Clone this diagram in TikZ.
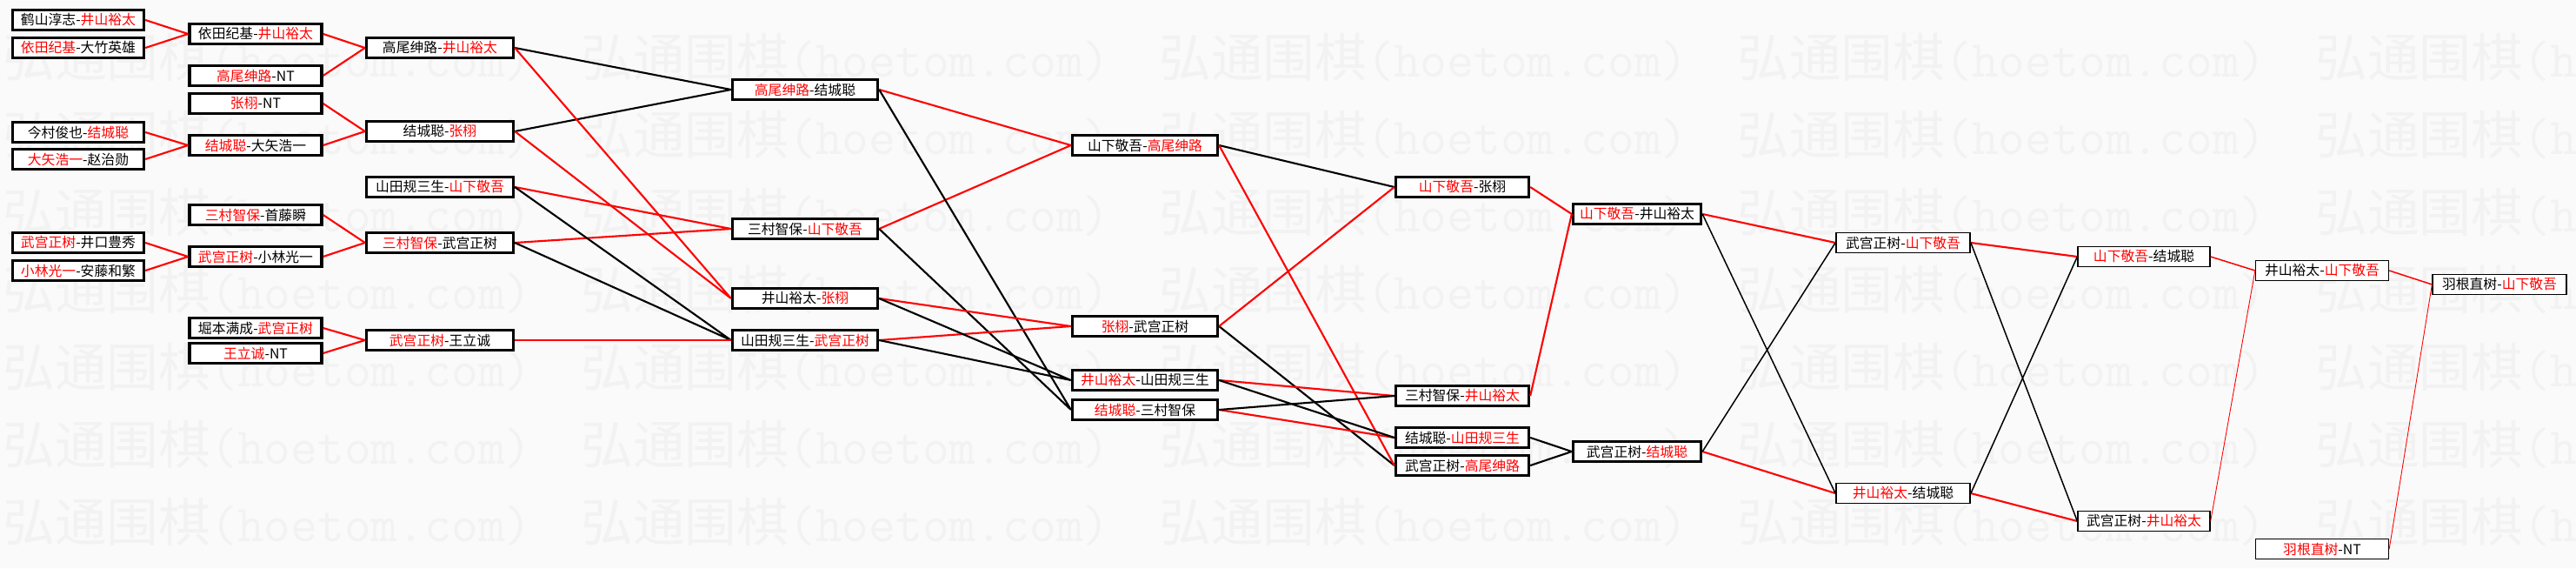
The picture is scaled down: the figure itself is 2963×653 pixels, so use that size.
\documentclass[tikz,border=0pt]{standalone}
\usepackage{fontspec}
\setmainfont{Noto Sans CJK SC}
\newcommand{\win}[1]{\textcolor{red}{#1}}
\tikzset{
  game/.style={draw, fill=white, line width=1.9pt, minimum width=#1, minimum height=4.6mm, inner sep=0pt, font=\fontsize{9}{9}\selectfont},
  game/.default=31mm,
  mid/.style={line width=1pt},
  late/.style={line width=0.75pt},
  adv/.style={red, line width=1.2pt},
  lost/.style={black, line width=1.2pt},
  thinadv/.style={red, line width=0.85pt},
  thinlost/.style={black, line width=0.85pt},
  faint/.style={red, line width=0.5pt},
  wm/.style={text=black!5, inner sep=0pt, font=\fontsize{34}{34}\selectfont}
}
\begin{document}
\begin{tikzpicture}[x=0.2mm, y=-0.2mm]
	\fill[black!2] (0,0) rectangle (2963,653);
	\useasboundingbox (0,0) rectangle (2963,653);
	\foreach \r in {0,...,6}
	  \foreach \c in {0,...,4}
	    \node[wm, anchor=west] (wm\r\c) at (3+665*\c, 66+89*\r) {弘通围棋{\ttfamily (hoetom.com)}};
	% first round
	\node[game=30.2mm] (a1) at (90,23) {鹤山淳志-\win{井山裕太}};
	\node[game=30.2mm] (a2) at (90,55) {\win{依田纪基}-大竹英雄};
	\node[game=30.2mm] (a3) at (90,152) {今村俊也-\win{结城聪}};
	\node[game=30.2mm] (a4) at (90,183) {\win{大矢浩一}-赵治勋};
	\node[game=30.2mm] (a5) at (90,279) {\win{武宫正树}-井口豊秀};
	\node[game=30.2mm] (a6) at (90,311) {\win{小林光一}-安藤和繁};
	\node[game=30.4mm] (b1) at (294,39) {依田纪基-\win{井山裕太}};
	\node[game=30.4mm] (b2) at (294,87) {\win{高尾绅路}-NT};
	\node[game=30.4mm] (b3) at (294,119) {\win{张栩}-NT};
	\node[game=30.4mm] (b4) at (294,167) {\win{结城聪}-大矢浩一};
	\node[game=30.4mm] (b5) at (294,247) {\win{三村智保}-首藤瞬};
	\node[game=30.4mm] (b6) at (294,295) {\win{武宫正树}-小林光一};
	\node[game=30.4mm] (b7) at (294,377) {堀本满成-\win{武宫正树}};
	\node[game=30.4mm] (b8) at (294,406) {\win{王立诚}-NT};
	\node[game=33.8mm] (c1) at (506,55) {高尾绅路-\win{井山裕太}};
	\node[game=33.8mm] (c2) at (506,151) {结城聪-\win{张栩}};
	\node[game=33.8mm] (c3) at (506,215) {山田规三生-\win{山下敬吾}};
	\node[game=33.8mm] (c4) at (506,279) {\win{三村智保}-武宫正树};
	\node[game=33.8mm] (c5) at (506,391) {\win{武宫正树}-王立诚};
	\node[game=33.4mm] (d1) at (926,103) {\win{高尾绅路}-结城聪};
	\node[game=33.4mm] (d2) at (926,263) {三村智保-\win{山下敬吾}};
	\node[game=33.4mm] (d3) at (926,343) {井山裕太-\win{张栩}};
	\node[game=33.4mm] (d4) at (926,391) {山田规三生-\win{武宫正树}};
	\node[game=33.4mm] (e1) at (1317,167) {山下敬吾-\win{高尾绅路}};
	\node[game=33.4mm] (e2) at (1317,375) {\win{张栩}-武宫正树};
	\node[game=33.4mm] (e3) at (1317,437) {\win{井山裕太}-山田规三生};
	\node[game=33.4mm] (e4) at (1317,471) {\win{结城聪}-三村智保};
	\node[game=30.6mm] (f1) at (1682,215) {\win{山下敬吾}-张栩};
	\node[game=30.6mm] (f2) at (1682,455) {三村智保-\win{井山裕太}};
	\node[game=30.6mm] (f3) at (1682,503) {结城聪-\win{山田规三生}};
	\node[game=30.6mm] (f4) at (1682,535) {武宫正树-\win{高尾绅路}};
	\node[game=29.4mm] (g1) at (1883,246) {\win{山下敬吾}-井山裕太};
	\node[game=29.4mm] (g2) at (1883,519) {武宫正树-\win{结城聪}};
	\node[game=30.8mm, mid] (h1) at (2189,279) {武宫正树-\win{山下敬吾}};
	\node[game=30.8mm, mid] (h2) at (2189,567) {\win{井山裕太}-结城聪};
	% final stages
	\node[game=30.4mm, late] (i1) at (2466,295) {\win{山下敬吾}-结城聪};
	\node[game=30.4mm, late] (i2) at (2466,599) {武宫正树-\win{井山裕太}};
	\node[game=30.6mm, late] (j1) at (2671,311) {井山裕太-\win{山下敬吾}};
	\node[game=30.6mm, late] (j2) at (2671,631) {\win{羽根直树}-NT};
	\node[game=30.8mm, late] (k1) at (2875,327) {羽根直树-\win{山下敬吾}};
	\draw[adv] (a1.east) -- (b1.west) (a2.east) -- (b1.west);
	\draw[adv] (a3.east) -- (b4.west) (a4.east) -- (b4.west);
	\draw[adv] (a5.east) -- (b6.west) (a6.east) -- (b6.west);
	\draw[adv] (b1.east) -- (c1.west) (b2.east) -- (c1.west);
	\draw[adv] (b3.east) -- (c2.west) (b4.east) -- (c2.west);
	\draw[adv] (b5.east) -- (c4.west) (b6.east) -- (c4.west);
	\draw[adv] (b7.east) -- (c5.west) (b8.east) -- (c5.west);
	\draw[lost] (c1.east) -- (d1.west) (c2.east) -- (d1.west);
	\draw[adv] (c1.east) -- (d3.west) (c2.east) -- (d3.west);
	\draw[adv] (c3.east) -- (d2.west) (c4.east) -- (d2.west);
	\draw[lost] (c3.east) -- (d4.west) (c4.east) -- (d4.west);
	\draw[adv] (c5.east) -- (d4.west);
	\draw[adv] (d1.east) -- (e1.west) (d2.east) -- (e1.west);
	\draw[lost] (d1.east) -- (e4.west) (d2.east) -- (e4.west);
	\draw[adv] (d3.east) -- (e2.west) (d4.east) -- (e2.west);
	\draw[lost] (d3.east) -- (e3.west) (d4.east) -- (e3.west);
	\draw[lost] (e1.east) -- (f1.west) (e2.east) -- (f4.west);
	\draw[adv] (e2.east) -- (f1.west) (e1.east) -- (f4.west);
	\draw[adv] (e3.east) -- (f2.west) (e4.east) -- (f3.west);
	\draw[lost] (e4.east) -- (f2.west) (e3.east) -- (f3.west);
	\draw[adv] (f1.east) -- (g1.west) (f2.east) -- (g1.west);
	\draw[lost] (f3.east) -- (g2.west) (f4.east) -- (g2.west);
	\draw[adv] (g1.east) -- (h1.west) (g2.east) -- (h2.west);
	\draw[thinlost] (g1.east) -- (h2.west) (g2.east) -- (h1.west);
	\draw[adv] (h1.east) -- (i1.west) (h2.east) -- (i2.west);
	\draw[thinlost] (h1.east) -- (i2.west) (h2.east) -- (i1.west);
	\draw[thinadv] (i1.east) -- (j1.west);
	\draw[faint] (i2.east) -- (j1.west);
	\draw[thinadv] (j1.east) -- (k1.west);
	\draw[faint] (j2.east) -- (k1.west);
\end{tikzpicture}
\end{document}
